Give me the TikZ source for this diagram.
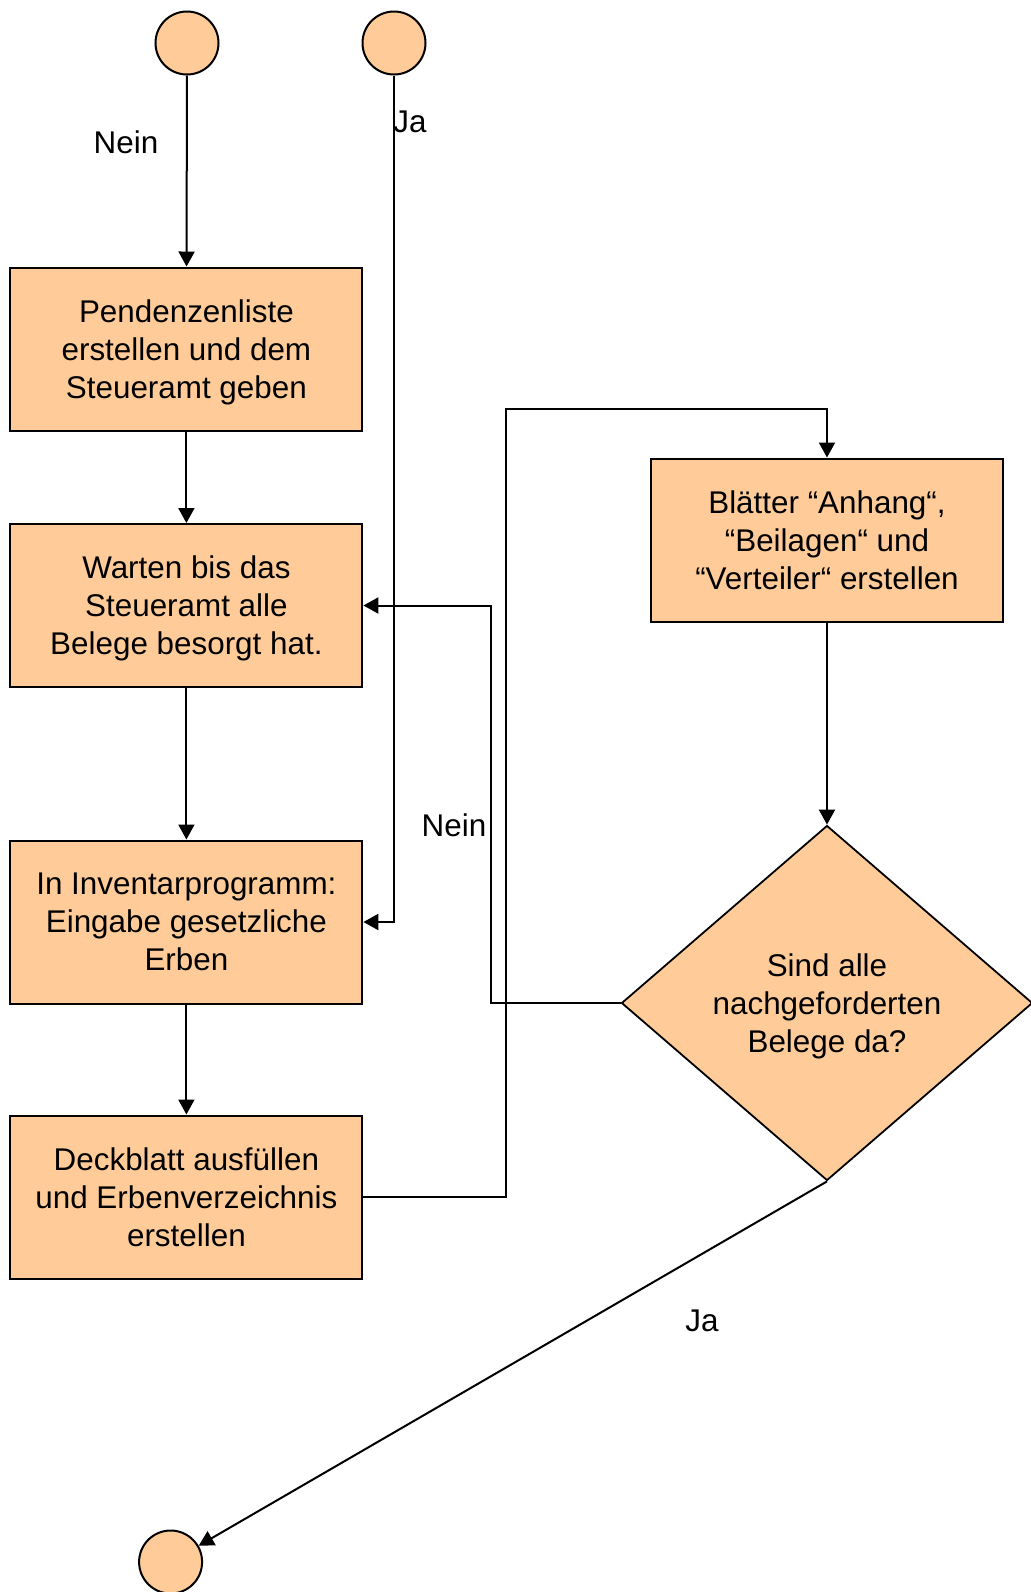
\documentclass[tikz,border=0pt]{standalone}
\usepackage{fontspec}
\setmainfont{Liberation Sans}
\usetikzlibrary{arrows.meta,shapes.geometric}
\definecolor{myOrange}{HTML}{FFCC99}

\begin{document}
\begin{tikzpicture}[x=0.5pt,y=-0.5pt]
	\tikzset{Schritt/.style = {draw, line width=1pt, fill=myOrange, minimum width=176pt, minimum height=81.5pt, inner sep=0pt, align=center, text depth=0pt, font=\fontsize{15.7}{19}\selectfont}}
	\tikzset{Punkt/.style = {circle, draw, line width=1pt, fill=myOrange, minimum size=31.5pt, inner sep=0pt}}
	\tikzset{Entscheid/.style = {diamond, draw, line width=0.9pt, fill=myOrange, minimum width=205.5pt, minimum height=177.5pt, aspect=1.16, inner sep=0pt, align=center, text depth=0pt, font=\fontsize{15.7}{19}\selectfont}}
	\tikzset{Beschriftung/.style = {inner sep=0pt, font=\fontsize{15.7}{19}\selectfont}}
	\tikzset{Pfeil/.style = {-{Triangle[length=7.5pt,width=8pt]}, line width=1pt}}
	\useasboundingbox (0,0) rectangle (1030,1592);
	
	% Knoten
	\node[Punkt] (startN) at (187,43) {};
	\node[Punkt] (startJ) at (394,43) {};
	\node[Schritt] (liste) at (186.4,349) {Pendenzenliste\\erstellen und dem\\Steueramt geben};
	\node[Schritt] (warten) at (186.4,605.5) {Warten bis das\\Steueramt alle\\Belege besorgt hat.};
	\node[Schritt] (inventar) at (186.4,922) {In Inventarprogramm:\\Eingabe gesetzliche\\Erben};
	\node[Schritt] (deckblatt) at (186.4,1197) {Deckblatt ausfüllen\\und Erbenverzeichnis\\erstellen};
	\node[Schritt] (blaetter) at (827,540) {Blätter “Anhang“,\\“Beilagen“ und\\“Verteiler“ erstellen};
	\node[Entscheid] (belege) at (827,1003) {Sind alle\\nachgeforderten\\Belege da?};
	\node[Punkt] (ende) at (170.6,1562) {};
	
	% Kanten
	\draw[Pfeil] (startN) -- (liste);
	\draw[Pfeil] (startJ) |- (inventar);
	\draw[Pfeil] (liste) -- (warten);
	\draw[Pfeil] (warten) -- (inventar);
	\draw[Pfeil] (inventar) -- (deckblatt);
	\draw[Pfeil] (deckblatt.east) -| (506,409) -| (blaetter);
	\draw[Pfeil] (blaetter) -- (belege);
	\draw[Pfeil] (belege.west) -| (490.6,605.5) -- (warten.east);
	\draw[Pfeil] (belege.south) -- (ende);
	
	% Beschriftungen
	\node[Beschriftung] (neinA) at (126,142) {Nein};
	\node[Beschriftung] (jaA) at (410,122) {Ja};
	\node[Beschriftung] (neinB) at (454,825) {Nein};
	\node[Beschriftung] (jaB) at (702,1321) {Ja};
	
\end{tikzpicture}
\end{document}
